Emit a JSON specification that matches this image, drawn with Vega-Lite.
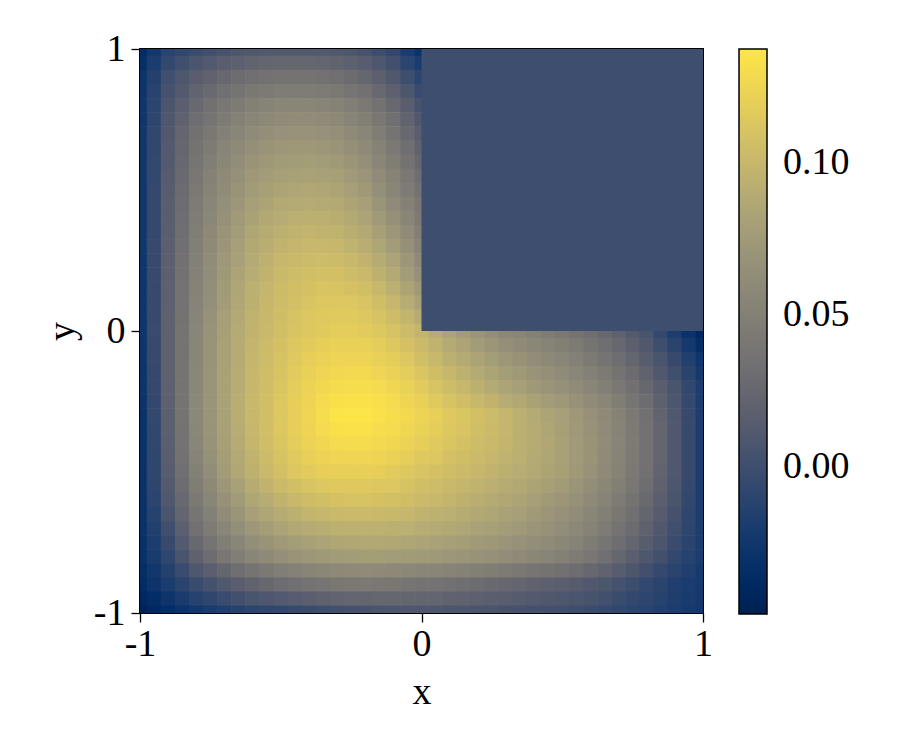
{
"$schema": "https://vega.github.io/schema/vega-lite/v6.json",
"width": 563, "height": 564,
"autosize": {"type": "none"},
"padding": {"left": 140, "top": 49, "right": 197, "bottom": 137},
"background": "white",
"datasets": {
"mask": [{"x": 0, "x2": 1, "y": 0, "y2": 1, "v": 0}],
"heat": [
{"x":-1,"y":1,"v":-0.035},{"x":-0.95,"y":1,"v":-0.024},{"x":-0.9,"y":1,"v":-0.012},{"x":-0.85,"y":1,"v":-0.007},{"x":-0.8,"y":1,"v":-0.002},{"x":-0.75,"y":1,"v":0.002},{"x":-0.7,"y":1,"v":0.005},{"x":-0.65,"y":1,"v":0.008},{"x":-0.6,"y":1,"v":0.01},{"x":-0.55,"y":1,"v":0.012},{"x":-0.5,"y":1,"v":0.013},{"x":-0.45,"y":1,"v":0.013},{"x":-0.4,"y":1,"v":0.013},{"x":-0.35,"y":1,"v":0.012},{"x":-0.3,"y":1,"v":0.011},{"x":-0.25,"y":1,"v":0.008},{"x":-0.2,"y":1,"v":0.005},{"x":-0.15,"y":1,"v":-0.001},{"x":-0.1,"y":1,"v":-0.007},{"x":-0.05,"y":1,"v":-0.019},{"x":0,"y":1,"v":-0.03},
{"x":-1,"y":0.95,"v":-0.032},{"x":-0.95,"y":0.95,"v":-0.019},{"x":-0.9,"y":0.95,"v":-0.006},{"x":-0.85,"y":0.95,"v":0.001},{"x":-0.8,"y":0.95,"v":0.007},{"x":-0.75,"y":0.95,"v":0.012},{"x":-0.7,"y":0.95,"v":0.016},{"x":-0.65,"y":0.95,"v":0.019},{"x":-0.6,"y":0.95,"v":0.022},{"x":-0.55,"y":0.95,"v":0.024},{"x":-0.5,"y":0.95,"v":0.025},{"x":-0.45,"y":0.95,"v":0.025},{"x":-0.4,"y":0.95,"v":0.025},{"x":-0.35,"y":0.95,"v":0.024},{"x":-0.3,"y":0.95,"v":0.022},{"x":-0.25,"y":0.95,"v":0.019},{"x":-0.2,"y":0.95,"v":0.015},{"x":-0.15,"y":0.95,"v":0.009},{"x":-0.1,"y":0.95,"v":0.002},{"x":-0.05,"y":0.95,"v":-0.01},{"x":0,"y":0.95,"v":-0.02},
{"x":-1,"y":0.9,"v":-0.028},{"x":-0.95,"y":0.9,"v":-0.014},{"x":-0.9,"y":0.9,"v":0.001},{"x":-0.85,"y":0.9,"v":0.009},{"x":-0.8,"y":0.9,"v":0.016},{"x":-0.75,"y":0.9,"v":0.021},{"x":-0.7,"y":0.9,"v":0.026},{"x":-0.65,"y":0.9,"v":0.03},{"x":-0.6,"y":0.9,"v":0.033},{"x":-0.55,"y":0.9,"v":0.035},{"x":-0.5,"y":0.9,"v":0.037},{"x":-0.45,"y":0.9,"v":0.037},{"x":-0.4,"y":0.9,"v":0.037},{"x":-0.35,"y":0.9,"v":0.035},{"x":-0.3,"y":0.9,"v":0.033},{"x":-0.25,"y":0.9,"v":0.029},{"x":-0.2,"y":0.9,"v":0.025},{"x":-0.15,"y":0.9,"v":0.018},{"x":-0.1,"y":0.9,"v":0.01},{"x":-0.05,"y":0.9,"v":0},{"x":0,"y":0.9,"v":-0.01},
{"x":-1,"y":0.85,"v":-0.027},{"x":-0.95,"y":0.85,"v":-0.012},{"x":-0.9,"y":0.85,"v":0.004},{"x":-0.85,"y":0.85,"v":0.013},{"x":-0.8,"y":0.85,"v":0.022},{"x":-0.75,"y":0.85,"v":0.028},{"x":-0.7,"y":0.85,"v":0.033},{"x":-0.65,"y":0.85,"v":0.038},{"x":-0.6,"y":0.85,"v":0.042},{"x":-0.55,"y":0.85,"v":0.044},{"x":-0.5,"y":0.85,"v":0.046},{"x":-0.45,"y":0.85,"v":0.046},{"x":-0.4,"y":0.85,"v":0.046},{"x":-0.35,"y":0.85,"v":0.045},{"x":-0.3,"y":0.85,"v":0.043},{"x":-0.25,"y":0.85,"v":0.039},{"x":-0.2,"y":0.85,"v":0.034},{"x":-0.15,"y":0.85,"v":0.027},{"x":-0.1,"y":0.85,"v":0.019},{"x":-0.05,"y":0.85,"v":0.008},{"x":0,"y":0.85,"v":-0.003},
{"x":-1,"y":0.8,"v":-0.026},{"x":-0.95,"y":0.8,"v":-0.01},{"x":-0.9,"y":0.8,"v":0.007},{"x":-0.85,"y":0.8,"v":0.017},{"x":-0.8,"y":0.8,"v":0.027},{"x":-0.75,"y":0.8,"v":0.034},{"x":-0.7,"y":0.8,"v":0.04},{"x":-0.65,"y":0.8,"v":0.045},{"x":-0.6,"y":0.8,"v":0.05},{"x":-0.55,"y":0.8,"v":0.053},{"x":-0.5,"y":0.8,"v":0.055},{"x":-0.45,"y":0.8,"v":0.055},{"x":-0.4,"y":0.8,"v":0.055},{"x":-0.35,"y":0.8,"v":0.054},{"x":-0.3,"y":0.8,"v":0.052},{"x":-0.25,"y":0.8,"v":0.048},{"x":-0.2,"y":0.8,"v":0.043},{"x":-0.15,"y":0.8,"v":0.035},{"x":-0.1,"y":0.8,"v":0.027},{"x":-0.05,"y":0.8,"v":0.016},{"x":0,"y":0.8,"v":0.005},
{"x":-1,"y":0.75,"v":-0.026},{"x":-0.95,"y":0.75,"v":-0.009},{"x":-0.9,"y":0.75,"v":0.009},{"x":-0.85,"y":0.75,"v":0.02},{"x":-0.8,"y":0.75,"v":0.031},{"x":-0.75,"y":0.75,"v":0.038},{"x":-0.7,"y":0.75,"v":0.045},{"x":-0.65,"y":0.75,"v":0.051},{"x":-0.6,"y":0.75,"v":0.056},{"x":-0.55,"y":0.75,"v":0.059},{"x":-0.5,"y":0.75,"v":0.061},{"x":-0.45,"y":0.75,"v":0.062},{"x":-0.4,"y":0.75,"v":0.062},{"x":-0.35,"y":0.75,"v":0.061},{"x":-0.3,"y":0.75,"v":0.059},{"x":-0.25,"y":0.75,"v":0.054},{"x":-0.2,"y":0.75,"v":0.049},{"x":-0.15,"y":0.75,"v":0.041},{"x":-0.1,"y":0.75,"v":0.033},{"x":-0.05,"y":0.75,"v":0.022},{"x":0,"y":0.75,"v":0.011},
{"x":-1,"y":0.7,"v":-0.025},{"x":-0.95,"y":0.7,"v":-0.007},{"x":-0.9,"y":0.7,"v":0.011},{"x":-0.85,"y":0.7,"v":0.023},{"x":-0.8,"y":0.7,"v":0.034},{"x":-0.75,"y":0.7,"v":0.042},{"x":-0.7,"y":0.7,"v":0.05},{"x":-0.65,"y":0.7,"v":0.056},{"x":-0.6,"y":0.7,"v":0.061},{"x":-0.55,"y":0.7,"v":0.064},{"x":-0.5,"y":0.7,"v":0.067},{"x":-0.45,"y":0.7,"v":0.068},{"x":-0.4,"y":0.7,"v":0.068},{"x":-0.35,"y":0.7,"v":0.067},{"x":-0.3,"y":0.7,"v":0.065},{"x":-0.25,"y":0.7,"v":0.06},{"x":-0.2,"y":0.7,"v":0.055},{"x":-0.15,"y":0.7,"v":0.047},{"x":-0.1,"y":0.7,"v":0.038},{"x":-0.05,"y":0.7,"v":0.027},{"x":0,"y":0.7,"v":0.016},
{"x":-1,"y":0.65,"v":-0.025},{"x":-0.95,"y":0.65,"v":-0.007},{"x":-0.9,"y":0.65,"v":0.012},{"x":-0.85,"y":0.65,"v":0.025},{"x":-0.8,"y":0.65,"v":0.037},{"x":-0.75,"y":0.65,"v":0.045},{"x":-0.7,"y":0.65,"v":0.054},{"x":-0.65,"y":0.65,"v":0.06},{"x":-0.6,"y":0.65,"v":0.065},{"x":-0.55,"y":0.65,"v":0.069},{"x":-0.5,"y":0.65,"v":0.072},{"x":-0.45,"y":0.65,"v":0.073},{"x":-0.4,"y":0.65,"v":0.073},{"x":-0.35,"y":0.65,"v":0.072},{"x":-0.3,"y":0.65,"v":0.07},{"x":-0.25,"y":0.65,"v":0.065},{"x":-0.2,"y":0.65,"v":0.06},{"x":-0.15,"y":0.65,"v":0.052},{"x":-0.1,"y":0.65,"v":0.043},{"x":-0.05,"y":0.65,"v":0.032},{"x":0,"y":0.65,"v":0.021},
{"x":-1,"y":0.6,"v":-0.025},{"x":-0.95,"y":0.6,"v":-0.006},{"x":-0.9,"y":0.6,"v":0.013},{"x":-0.85,"y":0.6,"v":0.026},{"x":-0.8,"y":0.6,"v":0.039},{"x":-0.75,"y":0.6,"v":0.048},{"x":-0.7,"y":0.6,"v":0.057},{"x":-0.65,"y":0.6,"v":0.063},{"x":-0.6,"y":0.6,"v":0.069},{"x":-0.55,"y":0.6,"v":0.073},{"x":-0.5,"y":0.6,"v":0.076},{"x":-0.45,"y":0.6,"v":0.077},{"x":-0.4,"y":0.6,"v":0.078},{"x":-0.35,"y":0.6,"v":0.077},{"x":-0.3,"y":0.6,"v":0.075},{"x":-0.25,"y":0.6,"v":0.07},{"x":-0.2,"y":0.6,"v":0.065},{"x":-0.15,"y":0.6,"v":0.056},{"x":-0.1,"y":0.6,"v":0.047},{"x":-0.05,"y":0.6,"v":0.037},{"x":0,"y":0.6,"v":0.026},
{"x":-1,"y":0.55,"v":-0.025},{"x":-0.95,"y":0.55,"v":-0.006},{"x":-0.9,"y":0.55,"v":0.014},{"x":-0.85,"y":0.55,"v":0.028},{"x":-0.8,"y":0.55,"v":0.041},{"x":-0.75,"y":0.55,"v":0.051},{"x":-0.7,"y":0.55,"v":0.06},{"x":-0.65,"y":0.55,"v":0.066},{"x":-0.6,"y":0.55,"v":0.073},{"x":-0.55,"y":0.55,"v":0.077},{"x":-0.5,"y":0.55,"v":0.08},{"x":-0.45,"y":0.55,"v":0.081},{"x":-0.4,"y":0.55,"v":0.082},{"x":-0.35,"y":0.55,"v":0.081},{"x":-0.3,"y":0.55,"v":0.08},{"x":-0.25,"y":0.55,"v":0.075},{"x":-0.2,"y":0.55,"v":0.07},{"x":-0.15,"y":0.55,"v":0.061},{"x":-0.1,"y":0.55,"v":0.052},{"x":-0.05,"y":0.55,"v":0.042},{"x":0,"y":0.55,"v":0.031},
{"x":-1,"y":0.5,"v":-0.025},{"x":-0.95,"y":0.5,"v":-0.005},{"x":-0.9,"y":0.5,"v":0.015},{"x":-0.85,"y":0.5,"v":0.029},{"x":-0.8,"y":0.5,"v":0.043},{"x":-0.75,"y":0.5,"v":0.053},{"x":-0.7,"y":0.5,"v":0.062},{"x":-0.65,"y":0.5,"v":0.069},{"x":-0.6,"y":0.5,"v":0.076},{"x":-0.55,"y":0.5,"v":0.08},{"x":-0.5,"y":0.5,"v":0.084},{"x":-0.45,"y":0.5,"v":0.085},{"x":-0.4,"y":0.5,"v":0.086},{"x":-0.35,"y":0.5,"v":0.085},{"x":-0.3,"y":0.5,"v":0.084},{"x":-0.25,"y":0.5,"v":0.079},{"x":-0.2,"y":0.5,"v":0.074},{"x":-0.15,"y":0.5,"v":0.065},{"x":-0.1,"y":0.5,"v":0.056},{"x":-0.05,"y":0.5,"v":0.046},{"x":0,"y":0.5,"v":0.035},
{"x":-1,"y":0.45,"v":-0.025},{"x":-0.95,"y":0.45,"v":-0.005},{"x":-0.9,"y":0.45,"v":0.016},{"x":-0.85,"y":0.45,"v":0.03},{"x":-0.8,"y":0.45,"v":0.045},{"x":-0.75,"y":0.45,"v":0.055},{"x":-0.7,"y":0.45,"v":0.065},{"x":-0.65,"y":0.45,"v":0.072},{"x":-0.6,"y":0.45,"v":0.079},{"x":-0.55,"y":0.45,"v":0.084},{"x":-0.5,"y":0.45,"v":0.088},{"x":-0.45,"y":0.45,"v":0.089},{"x":-0.4,"y":0.45,"v":0.09},{"x":-0.35,"y":0.45,"v":0.089},{"x":-0.3,"y":0.45,"v":0.088},{"x":-0.25,"y":0.45,"v":0.084},{"x":-0.2,"y":0.45,"v":0.079},{"x":-0.15,"y":0.45,"v":0.07},{"x":-0.1,"y":0.45,"v":0.061},{"x":-0.05,"y":0.45,"v":0.051},{"x":0,"y":0.45,"v":0.04},
{"x":-1,"y":0.4,"v":-0.025},{"x":-0.95,"y":0.4,"v":-0.005},{"x":-0.9,"y":0.4,"v":0.016},{"x":-0.85,"y":0.4,"v":0.031},{"x":-0.8,"y":0.4,"v":0.046},{"x":-0.75,"y":0.4,"v":0.057},{"x":-0.7,"y":0.4,"v":0.067},{"x":-0.65,"y":0.4,"v":0.075},{"x":-0.6,"y":0.4,"v":0.082},{"x":-0.55,"y":0.4,"v":0.087},{"x":-0.5,"y":0.4,"v":0.091},{"x":-0.45,"y":0.4,"v":0.093},{"x":-0.4,"y":0.4,"v":0.094},{"x":-0.35,"y":0.4,"v":0.093},{"x":-0.3,"y":0.4,"v":0.092},{"x":-0.25,"y":0.4,"v":0.088},{"x":-0.2,"y":0.4,"v":0.083},{"x":-0.15,"y":0.4,"v":0.075},{"x":-0.1,"y":0.4,"v":0.066},{"x":-0.05,"y":0.4,"v":0.055},{"x":0,"y":0.4,"v":0.044},
{"x":-1,"y":0.35,"v":-0.025},{"x":-0.95,"y":0.35,"v":-0.005},{"x":-0.9,"y":0.35,"v":0.017},{"x":-0.85,"y":0.35,"v":0.032},{"x":-0.8,"y":0.35,"v":0.048},{"x":-0.75,"y":0.35,"v":0.059},{"x":-0.7,"y":0.35,"v":0.069},{"x":-0.65,"y":0.35,"v":0.077},{"x":-0.6,"y":0.35,"v":0.085},{"x":-0.55,"y":0.35,"v":0.09},{"x":-0.5,"y":0.35,"v":0.094},{"x":-0.45,"y":0.35,"v":0.096},{"x":-0.4,"y":0.35,"v":0.098},{"x":-0.35,"y":0.35,"v":0.097},{"x":-0.3,"y":0.35,"v":0.096},{"x":-0.25,"y":0.35,"v":0.092},{"x":-0.2,"y":0.35,"v":0.088},{"x":-0.15,"y":0.35,"v":0.08},{"x":-0.1,"y":0.35,"v":0.072},{"x":-0.05,"y":0.35,"v":0.061},{"x":0,"y":0.35,"v":0.049},
{"x":-1,"y":0.3,"v":-0.025},{"x":-0.95,"y":0.3,"v":-0.004},{"x":-0.9,"y":0.3,"v":0.017},{"x":-0.85,"y":0.3,"v":0.033},{"x":-0.8,"y":0.3,"v":0.049},{"x":-0.75,"y":0.3,"v":0.06},{"x":-0.7,"y":0.3,"v":0.071},{"x":-0.65,"y":0.3,"v":0.079},{"x":-0.6,"y":0.3,"v":0.087},{"x":-0.55,"y":0.3,"v":0.092},{"x":-0.5,"y":0.3,"v":0.097},{"x":-0.45,"y":0.3,"v":0.099},{"x":-0.4,"y":0.3,"v":0.101},{"x":-0.35,"y":0.3,"v":0.101},{"x":-0.3,"y":0.3,"v":0.1},{"x":-0.25,"y":0.3,"v":0.096},{"x":-0.2,"y":0.3,"v":0.092},{"x":-0.15,"y":0.3,"v":0.085},{"x":-0.1,"y":0.3,"v":0.077},{"x":-0.05,"y":0.3,"v":0.066},{"x":0,"y":0.3,"v":0.054},
{"x":-1,"y":0.25,"v":-0.026},{"x":-0.95,"y":0.25,"v":-0.004},{"x":-0.9,"y":0.25,"v":0.018},{"x":-0.85,"y":0.25,"v":0.034},{"x":-0.8,"y":0.25,"v":0.05},{"x":-0.75,"y":0.25,"v":0.062},{"x":-0.7,"y":0.25,"v":0.073},{"x":-0.65,"y":0.25,"v":0.081},{"x":-0.6,"y":0.25,"v":0.089},{"x":-0.55,"y":0.25,"v":0.095},{"x":-0.5,"y":0.25,"v":0.1},{"x":-0.45,"y":0.25,"v":0.102},{"x":-0.4,"y":0.25,"v":0.104},{"x":-0.35,"y":0.25,"v":0.105},{"x":-0.3,"y":0.25,"v":0.104},{"x":-0.25,"y":0.25,"v":0.101},{"x":-0.2,"y":0.25,"v":0.097},{"x":-0.15,"y":0.25,"v":0.09},{"x":-0.1,"y":0.25,"v":0.083},{"x":-0.05,"y":0.25,"v":0.072},{"x":0,"y":0.25,"v":0.06},
{"x":-1,"y":0.2,"v":-0.026},{"x":-0.95,"y":0.2,"v":-0.004},{"x":-0.9,"y":0.2,"v":0.018},{"x":-0.85,"y":0.2,"v":0.035},{"x":-0.8,"y":0.2,"v":0.051},{"x":-0.75,"y":0.2,"v":0.063},{"x":-0.7,"y":0.2,"v":0.074},{"x":-0.65,"y":0.2,"v":0.083},{"x":-0.6,"y":0.2,"v":0.091},{"x":-0.55,"y":0.2,"v":0.097},{"x":-0.5,"y":0.2,"v":0.102},{"x":-0.45,"y":0.2,"v":0.105},{"x":-0.4,"y":0.2,"v":0.107},{"x":-0.35,"y":0.2,"v":0.108},{"x":-0.3,"y":0.2,"v":0.108},{"x":-0.25,"y":0.2,"v":0.105},{"x":-0.2,"y":0.2,"v":0.102},{"x":-0.15,"y":0.2,"v":0.095},{"x":-0.1,"y":0.2,"v":0.088},{"x":-0.05,"y":0.2,"v":0.077},{"x":0,"y":0.2,"v":0.066},
{"x":-1,"y":0.15,"v":-0.026},{"x":-0.95,"y":0.15,"v":-0.004},{"x":-0.9,"y":0.15,"v":0.019},{"x":-0.85,"y":0.15,"v":0.036},{"x":-0.8,"y":0.15,"v":0.052},{"x":-0.75,"y":0.15,"v":0.064},{"x":-0.7,"y":0.15,"v":0.076},{"x":-0.65,"y":0.15,"v":0.085},{"x":-0.6,"y":0.15,"v":0.093},{"x":-0.55,"y":0.15,"v":0.099},{"x":-0.5,"y":0.15,"v":0.104},{"x":-0.45,"y":0.15,"v":0.107},{"x":-0.4,"y":0.15,"v":0.109},{"x":-0.35,"y":0.15,"v":0.111},{"x":-0.3,"y":0.15,"v":0.111},{"x":-0.25,"y":0.15,"v":0.109},{"x":-0.2,"y":0.15,"v":0.107},{"x":-0.15,"y":0.15,"v":0.101},{"x":-0.1,"y":0.15,"v":0.094},{"x":-0.05,"y":0.15,"v":0.084},{"x":0,"y":0.15,"v":0.074},
{"x":-1,"y":0.1,"v":-0.026},{"x":-0.95,"y":0.1,"v":-0.004},{"x":-0.9,"y":0.1,"v":0.019},{"x":-0.85,"y":0.1,"v":0.036},{"x":-0.8,"y":0.1,"v":0.053},{"x":-0.75,"y":0.1,"v":0.065},{"x":-0.7,"y":0.1,"v":0.077},{"x":-0.65,"y":0.1,"v":0.086},{"x":-0.6,"y":0.1,"v":0.094},{"x":-0.55,"y":0.1,"v":0.1},{"x":-0.5,"y":0.1,"v":0.105},{"x":-0.45,"y":0.1,"v":0.108},{"x":-0.4,"y":0.1,"v":0.111},{"x":-0.35,"y":0.1,"v":0.113},{"x":-0.3,"y":0.1,"v":0.114},{"x":-0.25,"y":0.1,"v":0.113},{"x":-0.2,"y":0.1,"v":0.111},{"x":-0.15,"y":0.1,"v":0.106},{"x":-0.1,"y":0.1,"v":0.1},{"x":-0.05,"y":0.1,"v":0.091},{"x":0,"y":0.1,"v":0.082},
{"x":-1,"y":0.05,"v":-0.026},{"x":-0.95,"y":0.05,"v":-0.004},{"x":-0.9,"y":0.05,"v":0.02},{"x":-0.85,"y":0.05,"v":0.037},{"x":-0.8,"y":0.05,"v":0.054},{"x":-0.75,"y":0.05,"v":0.067},{"x":-0.7,"y":0.05,"v":0.079},{"x":-0.65,"y":0.05,"v":0.088},{"x":-0.6,"y":0.05,"v":0.096},{"x":-0.55,"y":0.05,"v":0.101},{"x":-0.5,"y":0.05,"v":0.106},{"x":-0.45,"y":0.05,"v":0.11},{"x":-0.4,"y":0.05,"v":0.113},{"x":-0.35,"y":0.05,"v":0.115},{"x":-0.3,"y":0.05,"v":0.116},{"x":-0.25,"y":0.05,"v":0.116},{"x":-0.2,"y":0.05,"v":0.114},{"x":-0.15,"y":0.05,"v":0.11},{"x":-0.1,"y":0.05,"v":0.105},{"x":-0.05,"y":0.05,"v":0.098},{"x":0,"y":0.05,"v":0.09},
{"x":-1,"y":0,"v":-0.026},{"x":-0.95,"y":0,"v":-0.003},{"x":-0.9,"y":0,"v":0.02},{"x":-0.85,"y":0,"v":0.038},{"x":-0.8,"y":0,"v":0.055},{"x":-0.75,"y":0,"v":0.068},{"x":-0.7,"y":0,"v":0.08},{"x":-0.65,"y":0,"v":0.089},{"x":-0.6,"y":0,"v":0.097},{"x":-0.55,"y":0,"v":0.102},{"x":-0.5,"y":0,"v":0.107},{"x":-0.45,"y":0,"v":0.111},{"x":-0.4,"y":0,"v":0.114},{"x":-0.35,"y":0,"v":0.116},{"x":-0.3,"y":0,"v":0.118},{"x":-0.25,"y":0,"v":0.118},{"x":-0.2,"y":0,"v":0.117},{"x":-0.15,"y":0,"v":0.114},{"x":-0.1,"y":0,"v":0.11},{"x":-0.05,"y":0,"v":0.104},{"x":0,"y":0,"v":0.098},{"x":0.05,"y":0,"v":0.091},{"x":0.1,"y":0,"v":0.083},{"x":0.15,"y":0,"v":0.077},{"x":0.2,"y":0,"v":0.07},{"x":0.25,"y":0,"v":0.064},{"x":0.3,"y":0,"v":0.058},{"x":0.35,"y":0,"v":0.054},{"x":0.4,"y":0,"v":0.05},{"x":0.45,"y":0,"v":0.046},{"x":0.5,"y":0,"v":0.042},{"x":0.55,"y":0,"v":0.037},{"x":0.6,"y":0,"v":0.032},{"x":0.65,"y":0,"v":0.026},{"x":0.7,"y":0,"v":0.02},{"x":0.75,"y":0,"v":0.013},{"x":0.8,"y":0,"v":0.006},{"x":0.85,"y":0,"v":-0.006},{"x":0.9,"y":0,"v":-0.018},{"x":0.95,"y":0,"v":-0.029},{"x":1,"y":0,"v":-0.04},
{"x":-1,"y":-0.05,"v":-0.027},{"x":-0.95,"y":-0.05,"v":-0.004},{"x":-0.9,"y":-0.05,"v":0.02},{"x":-0.85,"y":-0.05,"v":0.038},{"x":-0.8,"y":-0.05,"v":0.056},{"x":-0.75,"y":-0.05,"v":0.069},{"x":-0.7,"y":-0.05,"v":0.081},{"x":-0.65,"y":-0.05,"v":0.09},{"x":-0.6,"y":-0.05,"v":0.098},{"x":-0.55,"y":-0.05,"v":0.104},{"x":-0.5,"y":-0.05,"v":0.109},{"x":-0.45,"y":-0.05,"v":0.113},{"x":-0.4,"y":-0.05,"v":0.117},{"x":-0.35,"y":-0.05,"v":0.119},{"x":-0.3,"y":-0.05,"v":0.121},{"x":-0.25,"y":-0.05,"v":0.121},{"x":-0.2,"y":-0.05,"v":0.121},{"x":-0.15,"y":-0.05,"v":0.118},{"x":-0.1,"y":-0.05,"v":0.114},{"x":-0.05,"y":-0.05,"v":0.109},{"x":0,"y":-0.05,"v":0.103},{"x":0.05,"y":-0.05,"v":0.096},{"x":0.1,"y":-0.05,"v":0.089},{"x":0.15,"y":-0.05,"v":0.083},{"x":0.2,"y":-0.05,"v":0.077},{"x":0.25,"y":-0.05,"v":0.071},{"x":0.3,"y":-0.05,"v":0.065},{"x":0.35,"y":-0.05,"v":0.061},{"x":0.4,"y":-0.05,"v":0.057},{"x":0.45,"y":-0.05,"v":0.053},{"x":0.5,"y":-0.05,"v":0.049},{"x":0.55,"y":-0.05,"v":0.044},{"x":0.6,"y":-0.05,"v":0.038},{"x":0.65,"y":-0.05,"v":0.032},{"x":0.7,"y":-0.05,"v":0.026},{"x":0.75,"y":-0.05,"v":0.018},{"x":0.8,"y":-0.05,"v":0.011},{"x":0.85,"y":-0.05,"v":0},{"x":0.9,"y":-0.05,"v":-0.011},{"x":0.95,"y":-0.05,"v":-0.022},{"x":1,"y":-0.05,"v":-0.033},
{"x":-1,"y":-0.1,"v":-0.027},{"x":-0.95,"y":-0.1,"v":-0.004},{"x":-0.9,"y":-0.1,"v":0.02},{"x":-0.85,"y":-0.1,"v":0.038},{"x":-0.8,"y":-0.1,"v":0.056},{"x":-0.75,"y":-0.1,"v":0.069},{"x":-0.7,"y":-0.1,"v":0.081},{"x":-0.65,"y":-0.1,"v":0.09},{"x":-0.6,"y":-0.1,"v":0.099},{"x":-0.55,"y":-0.1,"v":0.105},{"x":-0.5,"y":-0.1,"v":0.11},{"x":-0.45,"y":-0.1,"v":0.115},{"x":-0.4,"y":-0.1,"v":0.119},{"x":-0.35,"y":-0.1,"v":0.122},{"x":-0.3,"y":-0.1,"v":0.124},{"x":-0.25,"y":-0.1,"v":0.124},{"x":-0.2,"y":-0.1,"v":0.124},{"x":-0.15,"y":-0.1,"v":0.121},{"x":-0.1,"y":-0.1,"v":0.118},{"x":-0.05,"y":-0.1,"v":0.113},{"x":0,"y":-0.1,"v":0.107},{"x":0.05,"y":-0.1,"v":0.101},{"x":0.1,"y":-0.1,"v":0.094},{"x":0.15,"y":-0.1,"v":0.089},{"x":0.2,"y":-0.1,"v":0.083},{"x":0.25,"y":-0.1,"v":0.078},{"x":0.3,"y":-0.1,"v":0.072},{"x":0.35,"y":-0.1,"v":0.068},{"x":0.4,"y":-0.1,"v":0.063},{"x":0.45,"y":-0.1,"v":0.059},{"x":0.5,"y":-0.1,"v":0.055},{"x":0.55,"y":-0.1,"v":0.05},{"x":0.6,"y":-0.1,"v":0.044},{"x":0.65,"y":-0.1,"v":0.038},{"x":0.7,"y":-0.1,"v":0.031},{"x":0.75,"y":-0.1,"v":0.023},{"x":0.8,"y":-0.1,"v":0.015},{"x":0.85,"y":-0.1,"v":0.006},{"x":0.9,"y":-0.1,"v":-0.004},{"x":0.95,"y":-0.1,"v":-0.015},{"x":1,"y":-0.1,"v":-0.026},
{"x":-1,"y":-0.15,"v":-0.028},{"x":-0.95,"y":-0.15,"v":-0.005},{"x":-0.9,"y":-0.15,"v":0.02},{"x":-0.85,"y":-0.15,"v":0.038},{"x":-0.8,"y":-0.15,"v":0.057},{"x":-0.75,"y":-0.15,"v":0.07},{"x":-0.7,"y":-0.15,"v":0.082},{"x":-0.65,"y":-0.15,"v":0.091},{"x":-0.6,"y":-0.15,"v":0.1},{"x":-0.55,"y":-0.15,"v":0.106},{"x":-0.5,"y":-0.15,"v":0.111},{"x":-0.45,"y":-0.15,"v":0.117},{"x":-0.4,"y":-0.15,"v":0.121},{"x":-0.35,"y":-0.15,"v":0.125},{"x":-0.3,"y":-0.15,"v":0.127},{"x":-0.25,"y":-0.15,"v":0.128},{"x":-0.2,"y":-0.15,"v":0.128},{"x":-0.15,"y":-0.15,"v":0.125},{"x":-0.1,"y":-0.15,"v":0.122},{"x":-0.05,"y":-0.15,"v":0.118},{"x":0,"y":-0.15,"v":0.112},{"x":0.05,"y":-0.15,"v":0.106},{"x":0.1,"y":-0.15,"v":0.1},{"x":0.15,"y":-0.15,"v":0.095},{"x":0.2,"y":-0.15,"v":0.089},{"x":0.25,"y":-0.15,"v":0.084},{"x":0.3,"y":-0.15,"v":0.078},{"x":0.35,"y":-0.15,"v":0.074},{"x":0.4,"y":-0.15,"v":0.069},{"x":0.45,"y":-0.15,"v":0.065},{"x":0.5,"y":-0.15,"v":0.061},{"x":0.55,"y":-0.15,"v":0.056},{"x":0.6,"y":-0.15,"v":0.05},{"x":0.65,"y":-0.15,"v":0.044},{"x":0.7,"y":-0.15,"v":0.037},{"x":0.75,"y":-0.15,"v":0.029},{"x":0.8,"y":-0.15,"v":0.021},{"x":0.85,"y":-0.15,"v":0.011},{"x":0.9,"y":-0.15,"v":0.001},{"x":0.95,"y":-0.15,"v":-0.011},{"x":1,"y":-0.15,"v":-0.022},
{"x":-1,"y":-0.2,"v":-0.028},{"x":-0.95,"y":-0.2,"v":-0.005},{"x":-0.9,"y":-0.2,"v":0.019},{"x":-0.85,"y":-0.2,"v":0.038},{"x":-0.8,"y":-0.2,"v":0.057},{"x":-0.75,"y":-0.2,"v":0.07},{"x":-0.7,"y":-0.2,"v":0.082},{"x":-0.65,"y":-0.2,"v":0.091},{"x":-0.6,"y":-0.2,"v":0.1},{"x":-0.55,"y":-0.2,"v":0.106},{"x":-0.5,"y":-0.2,"v":0.112},{"x":-0.45,"y":-0.2,"v":0.118},{"x":-0.4,"y":-0.2,"v":0.123},{"x":-0.35,"y":-0.2,"v":0.127},{"x":-0.3,"y":-0.2,"v":0.13},{"x":-0.25,"y":-0.2,"v":0.131},{"x":-0.2,"y":-0.2,"v":0.131},{"x":-0.15,"y":-0.2,"v":0.129},{"x":-0.1,"y":-0.2,"v":0.126},{"x":-0.05,"y":-0.2,"v":0.122},{"x":0,"y":-0.2,"v":0.117},{"x":0.05,"y":-0.2,"v":0.111},{"x":0.1,"y":-0.2,"v":0.105},{"x":0.15,"y":-0.2,"v":0.1},{"x":0.2,"y":-0.2,"v":0.094},{"x":0.25,"y":-0.2,"v":0.089},{"x":0.3,"y":-0.2,"v":0.083},{"x":0.35,"y":-0.2,"v":0.079},{"x":0.4,"y":-0.2,"v":0.074},{"x":0.45,"y":-0.2,"v":0.07},{"x":0.5,"y":-0.2,"v":0.066},{"x":0.55,"y":-0.2,"v":0.061},{"x":0.6,"y":-0.2,"v":0.055},{"x":0.65,"y":-0.2,"v":0.049},{"x":0.7,"y":-0.2,"v":0.042},{"x":0.75,"y":-0.2,"v":0.034},{"x":0.8,"y":-0.2,"v":0.026},{"x":0.85,"y":-0.2,"v":0.016},{"x":0.9,"y":-0.2,"v":0.006},{"x":0.95,"y":-0.2,"v":-0.006},{"x":1,"y":-0.2,"v":-0.018},
{"x":-1,"y":-0.25,"v":-0.029},{"x":-0.95,"y":-0.25,"v":-0.006},{"x":-0.9,"y":-0.25,"v":0.019},{"x":-0.85,"y":-0.25,"v":0.038},{"x":-0.8,"y":-0.25,"v":0.058},{"x":-0.75,"y":-0.25,"v":0.07},{"x":-0.7,"y":-0.25,"v":0.082},{"x":-0.65,"y":-0.25,"v":0.092},{"x":-0.6,"y":-0.25,"v":0.101},{"x":-0.55,"y":-0.25,"v":0.107},{"x":-0.5,"y":-0.25,"v":0.113},{"x":-0.45,"y":-0.25,"v":0.119},{"x":-0.4,"y":-0.25,"v":0.124},{"x":-0.35,"y":-0.25,"v":0.129},{"x":-0.3,"y":-0.25,"v":0.133},{"x":-0.25,"y":-0.25,"v":0.134},{"x":-0.2,"y":-0.25,"v":0.134},{"x":-0.15,"y":-0.25,"v":0.132},{"x":-0.1,"y":-0.25,"v":0.129},{"x":-0.05,"y":-0.25,"v":0.125},{"x":0,"y":-0.25,"v":0.121},{"x":0.05,"y":-0.25,"v":0.116},{"x":0.1,"y":-0.25,"v":0.11},{"x":0.15,"y":-0.25,"v":0.106},{"x":0.2,"y":-0.25,"v":0.101},{"x":0.25,"y":-0.25,"v":0.097},{"x":0.3,"y":-0.25,"v":0.091},{"x":0.35,"y":-0.25,"v":0.087},{"x":0.4,"y":-0.25,"v":0.082},{"x":0.45,"y":-0.25,"v":0.077},{"x":0.5,"y":-0.25,"v":0.073},{"x":0.55,"y":-0.25,"v":0.067},{"x":0.6,"y":-0.25,"v":0.061},{"x":0.65,"y":-0.25,"v":0.055},{"x":0.7,"y":-0.25,"v":0.047},{"x":0.75,"y":-0.25,"v":0.039},{"x":0.8,"y":-0.25,"v":0.03},{"x":0.85,"y":-0.25,"v":0.019},{"x":0.9,"y":-0.25,"v":0.008},{"x":0.95,"y":-0.25,"v":-0.005},{"x":1,"y":-0.25,"v":-0.018},
{"x":-1,"y":-0.3,"v":-0.03},{"x":-0.95,"y":-0.3,"v":-0.006},{"x":-0.9,"y":-0.3,"v":0.018},{"x":-0.85,"y":-0.3,"v":0.038},{"x":-0.8,"y":-0.3,"v":0.058},{"x":-0.75,"y":-0.3,"v":0.07},{"x":-0.7,"y":-0.3,"v":0.082},{"x":-0.65,"y":-0.3,"v":0.092},{"x":-0.6,"y":-0.3,"v":0.101},{"x":-0.55,"y":-0.3,"v":0.107},{"x":-0.5,"y":-0.3,"v":0.113},{"x":-0.45,"y":-0.3,"v":0.119},{"x":-0.4,"y":-0.3,"v":0.125},{"x":-0.35,"y":-0.3,"v":0.131},{"x":-0.3,"y":-0.3,"v":0.136},{"x":-0.25,"y":-0.3,"v":0.137},{"x":-0.2,"y":-0.3,"v":0.137},{"x":-0.15,"y":-0.3,"v":0.134},{"x":-0.1,"y":-0.3,"v":0.131},{"x":-0.05,"y":-0.3,"v":0.128},{"x":0,"y":-0.3,"v":0.124},{"x":0.05,"y":-0.3,"v":0.12},{"x":0.1,"y":-0.3,"v":0.115},{"x":0.15,"y":-0.3,"v":0.112},{"x":0.2,"y":-0.3,"v":0.108},{"x":0.25,"y":-0.3,"v":0.104},{"x":0.3,"y":-0.3,"v":0.099},{"x":0.35,"y":-0.3,"v":0.094},{"x":0.4,"y":-0.3,"v":0.089},{"x":0.45,"y":-0.3,"v":0.084},{"x":0.5,"y":-0.3,"v":0.079},{"x":0.55,"y":-0.3,"v":0.073},{"x":0.6,"y":-0.3,"v":0.067},{"x":0.65,"y":-0.3,"v":0.06},{"x":0.7,"y":-0.3,"v":0.052},{"x":0.75,"y":-0.3,"v":0.043},{"x":0.8,"y":-0.3,"v":0.034},{"x":0.85,"y":-0.3,"v":0.022},{"x":0.9,"y":-0.3,"v":0.01},{"x":0.95,"y":-0.3,"v":-0.004},{"x":1,"y":-0.3,"v":-0.018},
{"x":-1,"y":-0.35,"v":-0.03},{"x":-0.95,"y":-0.35,"v":-0.007},{"x":-0.9,"y":-0.35,"v":0.018},{"x":-0.85,"y":-0.35,"v":0.037},{"x":-0.8,"y":-0.35,"v":0.057},{"x":-0.75,"y":-0.35,"v":0.069},{"x":-0.7,"y":-0.35,"v":0.081},{"x":-0.65,"y":-0.35,"v":0.091},{"x":-0.6,"y":-0.35,"v":0.1},{"x":-0.55,"y":-0.35,"v":0.107},{"x":-0.5,"y":-0.35,"v":0.113},{"x":-0.45,"y":-0.35,"v":0.119},{"x":-0.4,"y":-0.35,"v":0.124},{"x":-0.35,"y":-0.35,"v":0.129},{"x":-0.3,"y":-0.35,"v":0.133},{"x":-0.25,"y":-0.35,"v":0.134},{"x":-0.2,"y":-0.35,"v":0.134},{"x":-0.15,"y":-0.35,"v":0.131},{"x":-0.1,"y":-0.35,"v":0.129},{"x":-0.05,"y":-0.35,"v":0.126},{"x":0,"y":-0.35,"v":0.122},{"x":0.05,"y":-0.35,"v":0.118},{"x":0.1,"y":-0.35,"v":0.114},{"x":0.15,"y":-0.35,"v":0.111},{"x":0.2,"y":-0.35,"v":0.107},{"x":0.25,"y":-0.35,"v":0.103},{"x":0.3,"y":-0.35,"v":0.099},{"x":0.35,"y":-0.35,"v":0.094},{"x":0.4,"y":-0.35,"v":0.09},{"x":0.45,"y":-0.35,"v":0.085},{"x":0.5,"y":-0.35,"v":0.08},{"x":0.55,"y":-0.35,"v":0.074},{"x":0.6,"y":-0.35,"v":0.068},{"x":0.65,"y":-0.35,"v":0.061},{"x":0.7,"y":-0.35,"v":0.053},{"x":0.75,"y":-0.35,"v":0.044},{"x":0.8,"y":-0.35,"v":0.035},{"x":0.85,"y":-0.35,"v":0.023},{"x":0.9,"y":-0.35,"v":0.011},{"x":0.95,"y":-0.35,"v":-0.004},{"x":1,"y":-0.35,"v":-0.018},
{"x":-1,"y":-0.4,"v":-0.03},{"x":-0.95,"y":-0.4,"v":-0.007},{"x":-0.9,"y":-0.4,"v":0.017},{"x":-0.85,"y":-0.4,"v":0.036},{"x":-0.8,"y":-0.4,"v":0.055},{"x":-0.75,"y":-0.4,"v":0.068},{"x":-0.7,"y":-0.4,"v":0.08},{"x":-0.65,"y":-0.4,"v":0.09},{"x":-0.6,"y":-0.4,"v":0.099},{"x":-0.55,"y":-0.4,"v":0.106},{"x":-0.5,"y":-0.4,"v":0.112},{"x":-0.45,"y":-0.4,"v":0.118},{"x":-0.4,"y":-0.4,"v":0.123},{"x":-0.35,"y":-0.4,"v":0.126},{"x":-0.3,"y":-0.4,"v":0.129},{"x":-0.25,"y":-0.4,"v":0.13},{"x":-0.2,"y":-0.4,"v":0.13},{"x":-0.15,"y":-0.4,"v":0.128},{"x":-0.1,"y":-0.4,"v":0.126},{"x":-0.05,"y":-0.4,"v":0.123},{"x":0,"y":-0.4,"v":0.119},{"x":0.05,"y":-0.4,"v":0.116},{"x":0.1,"y":-0.4,"v":0.112},{"x":0.15,"y":-0.4,"v":0.109},{"x":0.2,"y":-0.4,"v":0.105},{"x":0.25,"y":-0.4,"v":0.102},{"x":0.3,"y":-0.4,"v":0.098},{"x":0.35,"y":-0.4,"v":0.094},{"x":0.4,"y":-0.4,"v":0.09},{"x":0.45,"y":-0.4,"v":0.086},{"x":0.5,"y":-0.4,"v":0.081},{"x":0.55,"y":-0.4,"v":0.075},{"x":0.6,"y":-0.4,"v":0.069},{"x":0.65,"y":-0.4,"v":0.062},{"x":0.7,"y":-0.4,"v":0.054},{"x":0.75,"y":-0.4,"v":0.045},{"x":0.8,"y":-0.4,"v":0.035},{"x":0.85,"y":-0.4,"v":0.023},{"x":0.9,"y":-0.4,"v":0.011},{"x":0.95,"y":-0.4,"v":-0.004},{"x":1,"y":-0.4,"v":-0.018},
{"x":-1,"y":-0.45,"v":-0.03},{"x":-0.95,"y":-0.45,"v":-0.008},{"x":-0.9,"y":-0.45,"v":0.016},{"x":-0.85,"y":-0.45,"v":0.035},{"x":-0.8,"y":-0.45,"v":0.053},{"x":-0.75,"y":-0.45,"v":0.066},{"x":-0.7,"y":-0.45,"v":0.078},{"x":-0.65,"y":-0.45,"v":0.088},{"x":-0.6,"y":-0.45,"v":0.097},{"x":-0.55,"y":-0.45,"v":0.104},{"x":-0.5,"y":-0.45,"v":0.11},{"x":-0.45,"y":-0.45,"v":0.116},{"x":-0.4,"y":-0.45,"v":0.12},{"x":-0.35,"y":-0.45,"v":0.123},{"x":-0.3,"y":-0.45,"v":0.125},{"x":-0.25,"y":-0.45,"v":0.125},{"x":-0.2,"y":-0.45,"v":0.125},{"x":-0.15,"y":-0.45,"v":0.124},{"x":-0.1,"y":-0.45,"v":0.122},{"x":-0.05,"y":-0.45,"v":0.119},{"x":0,"y":-0.45,"v":0.115},{"x":0.05,"y":-0.45,"v":0.113},{"x":0.1,"y":-0.45,"v":0.109},{"x":0.15,"y":-0.45,"v":0.106},{"x":0.2,"y":-0.45,"v":0.103},{"x":0.25,"y":-0.45,"v":0.1},{"x":0.3,"y":-0.45,"v":0.096},{"x":0.35,"y":-0.45,"v":0.093},{"x":0.4,"y":-0.45,"v":0.089},{"x":0.45,"y":-0.45,"v":0.085},{"x":0.5,"y":-0.45,"v":0.081},{"x":0.55,"y":-0.45,"v":0.075},{"x":0.6,"y":-0.45,"v":0.069},{"x":0.65,"y":-0.45,"v":0.061},{"x":0.7,"y":-0.45,"v":0.053},{"x":0.75,"y":-0.45,"v":0.044},{"x":0.8,"y":-0.45,"v":0.035},{"x":0.85,"y":-0.45,"v":0.023},{"x":0.9,"y":-0.45,"v":0.011},{"x":0.95,"y":-0.45,"v":-0.004},{"x":1,"y":-0.45,"v":-0.018},
{"x":-1,"y":-0.5,"v":-0.03},{"x":-0.95,"y":-0.5,"v":-0.008},{"x":-0.9,"y":-0.5,"v":0.015},{"x":-0.85,"y":-0.5,"v":0.033},{"x":-0.8,"y":-0.5,"v":0.05},{"x":-0.75,"y":-0.5,"v":0.063},{"x":-0.7,"y":-0.5,"v":0.076},{"x":-0.65,"y":-0.5,"v":0.086},{"x":-0.6,"y":-0.5,"v":0.095},{"x":-0.55,"y":-0.5,"v":0.102},{"x":-0.5,"y":-0.5,"v":0.108},{"x":-0.45,"y":-0.5,"v":0.113},{"x":-0.4,"y":-0.5,"v":0.117},{"x":-0.35,"y":-0.5,"v":0.119},{"x":-0.3,"y":-0.5,"v":0.12},{"x":-0.25,"y":-0.5,"v":0.12},{"x":-0.2,"y":-0.5,"v":0.12},{"x":-0.15,"y":-0.5,"v":0.119},{"x":-0.1,"y":-0.5,"v":0.117},{"x":-0.05,"y":-0.5,"v":0.114},{"x":0,"y":-0.5,"v":0.111},{"x":0.05,"y":-0.5,"v":0.109},{"x":0.1,"y":-0.5,"v":0.106},{"x":0.15,"y":-0.5,"v":0.103},{"x":0.2,"y":-0.5,"v":0.1},{"x":0.25,"y":-0.5,"v":0.097},{"x":0.3,"y":-0.5,"v":0.094},{"x":0.35,"y":-0.5,"v":0.091},{"x":0.4,"y":-0.5,"v":0.088},{"x":0.45,"y":-0.5,"v":0.084},{"x":0.5,"y":-0.5,"v":0.08},{"x":0.55,"y":-0.5,"v":0.074},{"x":0.6,"y":-0.5,"v":0.068},{"x":0.65,"y":-0.5,"v":0.06},{"x":0.7,"y":-0.5,"v":0.052},{"x":0.75,"y":-0.5,"v":0.043},{"x":0.8,"y":-0.5,"v":0.034},{"x":0.85,"y":-0.5,"v":0.022},{"x":0.9,"y":-0.5,"v":0.01},{"x":0.95,"y":-0.5,"v":-0.004},{"x":1,"y":-0.5,"v":-0.018},
{"x":-1,"y":-0.55,"v":-0.03},{"x":-0.95,"y":-0.55,"v":-0.009},{"x":-0.9,"y":-0.55,"v":0.013},{"x":-0.85,"y":-0.55,"v":0.03},{"x":-0.8,"y":-0.55,"v":0.047},{"x":-0.75,"y":-0.55,"v":0.059},{"x":-0.7,"y":-0.55,"v":0.072},{"x":-0.65,"y":-0.55,"v":0.081},{"x":-0.6,"y":-0.55,"v":0.09},{"x":-0.55,"y":-0.55,"v":0.097},{"x":-0.5,"y":-0.55,"v":0.103},{"x":-0.45,"y":-0.55,"v":0.107},{"x":-0.4,"y":-0.55,"v":0.111},{"x":-0.35,"y":-0.55,"v":0.113},{"x":-0.3,"y":-0.55,"v":0.115},{"x":-0.25,"y":-0.55,"v":0.115},{"x":-0.2,"y":-0.55,"v":0.115},{"x":-0.15,"y":-0.55,"v":0.114},{"x":-0.1,"y":-0.55,"v":0.113},{"x":-0.05,"y":-0.55,"v":0.11},{"x":0,"y":-0.55,"v":0.107},{"x":0.05,"y":-0.55,"v":0.105},{"x":0.1,"y":-0.55,"v":0.102},{"x":0.15,"y":-0.55,"v":0.099},{"x":0.2,"y":-0.55,"v":0.096},{"x":0.25,"y":-0.55,"v":0.093},{"x":0.3,"y":-0.55,"v":0.09},{"x":0.35,"y":-0.55,"v":0.087},{"x":0.4,"y":-0.55,"v":0.084},{"x":0.45,"y":-0.55,"v":0.08},{"x":0.5,"y":-0.55,"v":0.076},{"x":0.55,"y":-0.55,"v":0.07},{"x":0.6,"y":-0.55,"v":0.064},{"x":0.65,"y":-0.55,"v":0.057},{"x":0.7,"y":-0.55,"v":0.049},{"x":0.75,"y":-0.55,"v":0.04},{"x":0.8,"y":-0.55,"v":0.031},{"x":0.85,"y":-0.55,"v":0.02},{"x":0.9,"y":-0.55,"v":0.008},{"x":0.95,"y":-0.55,"v":-0.005},{"x":1,"y":-0.55,"v":-0.018},
{"x":-1,"y":-0.6,"v":-0.03},{"x":-0.95,"y":-0.6,"v":-0.01},{"x":-0.9,"y":-0.6,"v":0.01},{"x":-0.85,"y":-0.6,"v":0.027},{"x":-0.8,"y":-0.6,"v":0.043},{"x":-0.75,"y":-0.6,"v":0.055},{"x":-0.7,"y":-0.6,"v":0.067},{"x":-0.65,"y":-0.6,"v":0.076},{"x":-0.6,"y":-0.6,"v":0.085},{"x":-0.55,"y":-0.6,"v":0.091},{"x":-0.5,"y":-0.6,"v":0.097},{"x":-0.45,"y":-0.6,"v":0.101},{"x":-0.4,"y":-0.6,"v":0.105},{"x":-0.35,"y":-0.6,"v":0.107},{"x":-0.3,"y":-0.6,"v":0.109},{"x":-0.25,"y":-0.6,"v":0.11},{"x":-0.2,"y":-0.6,"v":0.11},{"x":-0.15,"y":-0.6,"v":0.109},{"x":-0.1,"y":-0.6,"v":0.108},{"x":-0.05,"y":-0.6,"v":0.106},{"x":0,"y":-0.6,"v":0.103},{"x":0.05,"y":-0.6,"v":0.101},{"x":0.1,"y":-0.6,"v":0.098},{"x":0.15,"y":-0.6,"v":0.095},{"x":0.2,"y":-0.6,"v":0.092},{"x":0.25,"y":-0.6,"v":0.089},{"x":0.3,"y":-0.6,"v":0.086},{"x":0.35,"y":-0.6,"v":0.083},{"x":0.4,"y":-0.6,"v":0.079},{"x":0.45,"y":-0.6,"v":0.075},{"x":0.5,"y":-0.6,"v":0.071},{"x":0.55,"y":-0.6,"v":0.066},{"x":0.6,"y":-0.6,"v":0.06},{"x":0.65,"y":-0.6,"v":0.053},{"x":0.7,"y":-0.6,"v":0.045},{"x":0.75,"y":-0.6,"v":0.037},{"x":0.8,"y":-0.6,"v":0.028},{"x":0.85,"y":-0.6,"v":0.017},{"x":0.9,"y":-0.6,"v":0.006},{"x":0.95,"y":-0.6,"v":-0.006},{"x":1,"y":-0.6,"v":-0.018},
{"x":-1,"y":-0.65,"v":-0.03},{"x":-0.95,"y":-0.65,"v":-0.013},{"x":-0.9,"y":-0.65,"v":0.006},{"x":-0.85,"y":-0.65,"v":0.023},{"x":-0.8,"y":-0.65,"v":0.039},{"x":-0.75,"y":-0.65,"v":0.05},{"x":-0.7,"y":-0.65,"v":0.062},{"x":-0.65,"y":-0.65,"v":0.07},{"x":-0.6,"y":-0.65,"v":0.079},{"x":-0.55,"y":-0.65,"v":0.085},{"x":-0.5,"y":-0.65,"v":0.09},{"x":-0.45,"y":-0.65,"v":0.094},{"x":-0.4,"y":-0.65,"v":0.098},{"x":-0.35,"y":-0.65,"v":0.1},{"x":-0.3,"y":-0.65,"v":0.102},{"x":-0.25,"y":-0.65,"v":0.103},{"x":-0.2,"y":-0.65,"v":0.103},{"x":-0.15,"y":-0.65,"v":0.102},{"x":-0.1,"y":-0.65,"v":0.101},{"x":-0.05,"y":-0.65,"v":0.1},{"x":0,"y":-0.65,"v":0.097},{"x":0.05,"y":-0.65,"v":0.095},{"x":0.1,"y":-0.65,"v":0.093},{"x":0.15,"y":-0.65,"v":0.09},{"x":0.2,"y":-0.65,"v":0.087},{"x":0.25,"y":-0.65,"v":0.085},{"x":0.3,"y":-0.65,"v":0.082},{"x":0.35,"y":-0.65,"v":0.079},{"x":0.4,"y":-0.65,"v":0.075},{"x":0.45,"y":-0.65,"v":0.071},{"x":0.5,"y":-0.65,"v":0.067},{"x":0.55,"y":-0.65,"v":0.062},{"x":0.6,"y":-0.65,"v":0.056},{"x":0.65,"y":-0.65,"v":0.049},{"x":0.7,"y":-0.65,"v":0.041},{"x":0.75,"y":-0.65,"v":0.033},{"x":0.8,"y":-0.65,"v":0.024},{"x":0.85,"y":-0.65,"v":0.014},{"x":0.9,"y":-0.65,"v":0.004},{"x":0.95,"y":-0.65,"v":-0.008},{"x":1,"y":-0.65,"v":-0.018},
{"x":-1,"y":-0.7,"v":-0.03},{"x":-0.95,"y":-0.7,"v":-0.015},{"x":-0.9,"y":-0.7,"v":0.001},{"x":-0.85,"y":-0.7,"v":0.018},{"x":-0.8,"y":-0.7,"v":0.034},{"x":-0.75,"y":-0.7,"v":0.045},{"x":-0.7,"y":-0.7,"v":0.056},{"x":-0.65,"y":-0.7,"v":0.064},{"x":-0.6,"y":-0.7,"v":0.072},{"x":-0.55,"y":-0.7,"v":0.078},{"x":-0.5,"y":-0.7,"v":0.083},{"x":-0.45,"y":-0.7,"v":0.087},{"x":-0.4,"y":-0.7,"v":0.09},{"x":-0.35,"y":-0.7,"v":0.092},{"x":-0.3,"y":-0.7,"v":0.094},{"x":-0.25,"y":-0.7,"v":0.095},{"x":-0.2,"y":-0.7,"v":0.095},{"x":-0.15,"y":-0.7,"v":0.095},{"x":-0.1,"y":-0.7,"v":0.094},{"x":-0.05,"y":-0.7,"v":0.093},{"x":0,"y":-0.7,"v":0.091},{"x":0.05,"y":-0.7,"v":0.089},{"x":0.1,"y":-0.7,"v":0.087},{"x":0.15,"y":-0.7,"v":0.085},{"x":0.2,"y":-0.7,"v":0.082},{"x":0.25,"y":-0.7,"v":0.08},{"x":0.3,"y":-0.7,"v":0.077},{"x":0.35,"y":-0.7,"v":0.074},{"x":0.4,"y":-0.7,"v":0.07},{"x":0.45,"y":-0.7,"v":0.067},{"x":0.5,"y":-0.7,"v":0.063},{"x":0.55,"y":-0.7,"v":0.058},{"x":0.6,"y":-0.7,"v":0.052},{"x":0.65,"y":-0.7,"v":0.045},{"x":0.7,"y":-0.7,"v":0.037},{"x":0.75,"y":-0.7,"v":0.029},{"x":0.8,"y":-0.7,"v":0.02},{"x":0.85,"y":-0.7,"v":0.011},{"x":0.9,"y":-0.7,"v":0.001},{"x":0.95,"y":-0.7,"v":-0.009},{"x":1,"y":-0.7,"v":-0.018},
{"x":-1,"y":-0.75,"v":-0.031},{"x":-0.95,"y":-0.75,"v":-0.018},{"x":-0.9,"y":-0.75,"v":-0.004},{"x":-0.85,"y":-0.75,"v":0.012},{"x":-0.8,"y":-0.75,"v":0.027},{"x":-0.75,"y":-0.75,"v":0.038},{"x":-0.7,"y":-0.75,"v":0.048},{"x":-0.65,"y":-0.75,"v":0.056},{"x":-0.6,"y":-0.75,"v":0.064},{"x":-0.55,"y":-0.75,"v":0.069},{"x":-0.5,"y":-0.75,"v":0.074},{"x":-0.45,"y":-0.75,"v":0.078},{"x":-0.4,"y":-0.75,"v":0.081},{"x":-0.35,"y":-0.75,"v":0.083},{"x":-0.3,"y":-0.75,"v":0.085},{"x":-0.25,"y":-0.75,"v":0.086},{"x":-0.2,"y":-0.75,"v":0.087},{"x":-0.15,"y":-0.75,"v":0.087},{"x":-0.1,"y":-0.75,"v":0.086},{"x":-0.05,"y":-0.75,"v":0.085},{"x":0,"y":-0.75,"v":0.083},{"x":0.05,"y":-0.75,"v":0.082},{"x":0.1,"y":-0.75,"v":0.08},{"x":0.15,"y":-0.75,"v":0.078},{"x":0.2,"y":-0.75,"v":0.075},{"x":0.25,"y":-0.75,"v":0.073},{"x":0.3,"y":-0.75,"v":0.07},{"x":0.35,"y":-0.75,"v":0.067},{"x":0.4,"y":-0.75,"v":0.064},{"x":0.45,"y":-0.75,"v":0.061},{"x":0.5,"y":-0.75,"v":0.057},{"x":0.55,"y":-0.75,"v":0.052},{"x":0.6,"y":-0.75,"v":0.046},{"x":0.65,"y":-0.75,"v":0.039},{"x":0.7,"y":-0.75,"v":0.031},{"x":0.75,"y":-0.75,"v":0.023},{"x":0.8,"y":-0.75,"v":0.015},{"x":0.85,"y":-0.75,"v":0.007},{"x":0.9,"y":-0.75,"v":-0.003},{"x":0.95,"y":-0.75,"v":-0.011},{"x":1,"y":-0.75,"v":-0.019},
{"x":-1,"y":-0.8,"v":-0.031},{"x":-0.95,"y":-0.8,"v":-0.02},{"x":-0.9,"y":-0.8,"v":-0.008},{"x":-0.85,"y":-0.8,"v":0.006},{"x":-0.8,"y":-0.8,"v":0.02},{"x":-0.75,"y":-0.8,"v":0.03},{"x":-0.7,"y":-0.8,"v":0.04},{"x":-0.65,"y":-0.8,"v":0.048},{"x":-0.6,"y":-0.8,"v":0.055},{"x":-0.55,"y":-0.8,"v":0.06},{"x":-0.5,"y":-0.8,"v":0.065},{"x":-0.45,"y":-0.8,"v":0.069},{"x":-0.4,"y":-0.8,"v":0.072},{"x":-0.35,"y":-0.8,"v":0.074},{"x":-0.3,"y":-0.8,"v":0.076},{"x":-0.25,"y":-0.8,"v":0.077},{"x":-0.2,"y":-0.8,"v":0.078},{"x":-0.15,"y":-0.8,"v":0.078},{"x":-0.1,"y":-0.8,"v":0.077},{"x":-0.05,"y":-0.8,"v":0.076},{"x":0,"y":-0.8,"v":0.075},{"x":0.05,"y":-0.8,"v":0.074},{"x":0.1,"y":-0.8,"v":0.072},{"x":0.15,"y":-0.8,"v":0.07},{"x":0.2,"y":-0.8,"v":0.068},{"x":0.25,"y":-0.8,"v":0.066},{"x":0.3,"y":-0.8,"v":0.063},{"x":0.35,"y":-0.8,"v":0.06},{"x":0.4,"y":-0.8,"v":0.057},{"x":0.45,"y":-0.8,"v":0.054},{"x":0.5,"y":-0.8,"v":0.05},{"x":0.55,"y":-0.8,"v":0.045},{"x":0.6,"y":-0.8,"v":0.04},{"x":0.65,"y":-0.8,"v":0.033},{"x":0.7,"y":-0.8,"v":0.025},{"x":0.75,"y":-0.8,"v":0.017},{"x":0.8,"y":-0.8,"v":0.009},{"x":0.85,"y":-0.8,"v":0.002},{"x":0.9,"y":-0.8,"v":-0.006},{"x":0.95,"y":-0.8,"v":-0.013},{"x":1,"y":-0.8,"v":-0.019},
{"x":-1,"y":-0.85,"v":-0.033},{"x":-0.95,"y":-0.85,"v":-0.024},{"x":-0.9,"y":-0.85,"v":-0.014},{"x":-0.85,"y":-0.85,"v":-0.003},{"x":-0.8,"y":-0.85,"v":0.009},{"x":-0.75,"y":-0.85,"v":0.017},{"x":-0.7,"y":-0.85,"v":0.025},{"x":-0.65,"y":-0.85,"v":0.032},{"x":-0.6,"y":-0.85,"v":0.038},{"x":-0.55,"y":-0.85,"v":0.043},{"x":-0.5,"y":-0.85,"v":0.048},{"x":-0.45,"y":-0.85,"v":0.051},{"x":-0.4,"y":-0.85,"v":0.054},{"x":-0.35,"y":-0.85,"v":0.057},{"x":-0.3,"y":-0.85,"v":0.059},{"x":-0.25,"y":-0.85,"v":0.06},{"x":-0.2,"y":-0.85,"v":0.061},{"x":-0.15,"y":-0.85,"v":0.06},{"x":-0.1,"y":-0.85,"v":0.059},{"x":-0.05,"y":-0.85,"v":0.058},{"x":0,"y":-0.85,"v":0.056},{"x":0.05,"y":-0.85,"v":0.055},{"x":0.1,"y":-0.85,"v":0.053},{"x":0.15,"y":-0.85,"v":0.051},{"x":0.2,"y":-0.85,"v":0.049},{"x":0.25,"y":-0.85,"v":0.047},{"x":0.3,"y":-0.85,"v":0.045},{"x":0.35,"y":-0.85,"v":0.042},{"x":0.4,"y":-0.85,"v":0.039},{"x":0.45,"y":-0.85,"v":0.037},{"x":0.5,"y":-0.85,"v":0.034},{"x":0.55,"y":-0.85,"v":0.03},{"x":0.6,"y":-0.85,"v":0.026},{"x":0.65,"y":-0.85,"v":0.021},{"x":0.7,"y":-0.85,"v":0.015},{"x":0.75,"y":-0.85,"v":0.008},{"x":0.8,"y":-0.85,"v":0.002},{"x":0.85,"y":-0.85,"v":-0.005},{"x":0.9,"y":-0.85,"v":-0.011},{"x":0.95,"y":-0.85,"v":-0.016},{"x":1,"y":-0.85,"v":-0.021},
{"x":-1,"y":-0.9,"v":-0.035},{"x":-0.95,"y":-0.9,"v":-0.027},{"x":-0.9,"y":-0.9,"v":-0.019},{"x":-0.85,"y":-0.9,"v":-0.011},{"x":-0.8,"y":-0.9,"v":-0.002},{"x":-0.75,"y":-0.9,"v":0.004},{"x":-0.7,"y":-0.9,"v":0.01},{"x":-0.65,"y":-0.9,"v":0.016},{"x":-0.6,"y":-0.9,"v":0.021},{"x":-0.55,"y":-0.9,"v":0.026},{"x":-0.5,"y":-0.9,"v":0.03},{"x":-0.45,"y":-0.9,"v":0.033},{"x":-0.4,"y":-0.9,"v":0.036},{"x":-0.35,"y":-0.9,"v":0.039},{"x":-0.3,"y":-0.9,"v":0.041},{"x":-0.25,"y":-0.9,"v":0.042},{"x":-0.2,"y":-0.9,"v":0.043},{"x":-0.15,"y":-0.9,"v":0.042},{"x":-0.1,"y":-0.9,"v":0.041},{"x":-0.05,"y":-0.9,"v":0.039},{"x":0,"y":-0.9,"v":0.037},{"x":0.05,"y":-0.9,"v":0.036},{"x":0.1,"y":-0.9,"v":0.034},{"x":0.15,"y":-0.9,"v":0.032},{"x":0.2,"y":-0.9,"v":0.03},{"x":0.25,"y":-0.9,"v":0.028},{"x":0.3,"y":-0.9,"v":0.026},{"x":0.35,"y":-0.9,"v":0.024},{"x":0.4,"y":-0.9,"v":0.021},{"x":0.45,"y":-0.9,"v":0.019},{"x":0.5,"y":-0.9,"v":0.017},{"x":0.55,"y":-0.9,"v":0.014},{"x":0.6,"y":-0.9,"v":0.011},{"x":0.65,"y":-0.9,"v":0.008},{"x":0.7,"y":-0.9,"v":0.004},{"x":0.75,"y":-0.9,"v":-0.001},{"x":0.8,"y":-0.9,"v":-0.006},{"x":0.85,"y":-0.9,"v":-0.011},{"x":0.9,"y":-0.9,"v":-0.016},{"x":0.95,"y":-0.9,"v":-0.019},{"x":1,"y":-0.9,"v":-0.022},
{"x":-1,"y":-0.95,"v":-0.041},{"x":-0.95,"y":-0.95,"v":-0.034},{"x":-0.9,"y":-0.95,"v":-0.027},{"x":-0.85,"y":-0.95,"v":-0.02},{"x":-0.8,"y":-0.95,"v":-0.013},{"x":-0.75,"y":-0.95,"v":-0.008},{"x":-0.7,"y":-0.95,"v":-0.003},{"x":-0.65,"y":-0.95,"v":0.002},{"x":-0.6,"y":-0.95,"v":0.006},{"x":-0.55,"y":-0.95,"v":0.009},{"x":-0.5,"y":-0.95,"v":0.012},{"x":-0.45,"y":-0.95,"v":0.015},{"x":-0.4,"y":-0.95,"v":0.017},{"x":-0.35,"y":-0.95,"v":0.02},{"x":-0.3,"y":-0.95,"v":0.022},{"x":-0.25,"y":-0.95,"v":0.023},{"x":-0.2,"y":-0.95,"v":0.024},{"x":-0.15,"y":-0.95,"v":0.025},{"x":-0.1,"y":-0.95,"v":0.025},{"x":-0.05,"y":-0.95,"v":0.024},{"x":0,"y":-0.95,"v":0.023},{"x":0.05,"y":-0.95,"v":0.023},{"x":0.1,"y":-0.95,"v":0.021},{"x":0.15,"y":-0.95,"v":0.02},{"x":0.2,"y":-0.95,"v":0.019},{"x":0.25,"y":-0.95,"v":0.017},{"x":0.3,"y":-0.95,"v":0.016},{"x":0.35,"y":-0.95,"v":0.014},{"x":0.4,"y":-0.95,"v":0.012},{"x":0.45,"y":-0.95,"v":0.011},{"x":0.5,"y":-0.95,"v":0.009},{"x":0.55,"y":-0.95,"v":0.007},{"x":0.6,"y":-0.95,"v":0.005},{"x":0.65,"y":-0.95,"v":0.002},{"x":0.7,"y":-0.95,"v":-0.002},{"x":0.75,"y":-0.95,"v":-0.006},{"x":0.8,"y":-0.95,"v":-0.009},{"x":0.85,"y":-0.95,"v":-0.013},{"x":0.9,"y":-0.95,"v":-0.017},{"x":0.95,"y":-0.95,"v":-0.02},{"x":1,"y":-0.95,"v":-0.023},
{"x":-1,"y":-1,"v":-0.046},{"x":-0.95,"y":-1,"v":-0.04},{"x":-0.9,"y":-1,"v":-0.034},{"x":-0.85,"y":-1,"v":-0.029},{"x":-0.8,"y":-1,"v":-0.024},{"x":-0.75,"y":-1,"v":-0.02},{"x":-0.7,"y":-1,"v":-0.016},{"x":-0.65,"y":-1,"v":-0.013},{"x":-0.6,"y":-1,"v":-0.01},{"x":-0.55,"y":-1,"v":-0.008},{"x":-0.5,"y":-1,"v":-0.006},{"x":-0.45,"y":-1,"v":-0.004},{"x":-0.4,"y":-1,"v":-0.002},{"x":-0.35,"y":-1,"v":0},{"x":-0.3,"y":-1,"v":0.002},{"x":-0.25,"y":-1,"v":0.004},{"x":-0.2,"y":-1,"v":0.005},{"x":-0.15,"y":-1,"v":0.007},{"x":-0.1,"y":-1,"v":0.008},{"x":-0.05,"y":-1,"v":0.009},{"x":0,"y":-1,"v":0.009},{"x":0.05,"y":-1,"v":0.009},{"x":0.1,"y":-1,"v":0.008},{"x":0.15,"y":-1,"v":0.008},{"x":0.2,"y":-1,"v":0.007},{"x":0.25,"y":-1,"v":0.006},{"x":0.3,"y":-1,"v":0.005},{"x":0.35,"y":-1,"v":0.004},{"x":0.4,"y":-1,"v":0.003},{"x":0.45,"y":-1,"v":0.002},{"x":0.5,"y":-1,"v":0.001},{"x":0.55,"y":-1,"v":-0.001},{"x":0.6,"y":-1,"v":-0.002},{"x":0.65,"y":-1,"v":-0.005},{"x":0.7,"y":-1,"v":-0.007},{"x":0.75,"y":-1,"v":-0.01},{"x":0.8,"y":-1,"v":-0.012},{"x":0.85,"y":-1,"v":-0.015},{"x":0.9,"y":-1,"v":-0.018},{"x":0.95,"y":-1,"v":-0.021},{"x":1,"y":-1,"v":-0.024}
]
},
"encoding": {
  "x": {"field": "x", "type": "quantitative", "scale": {"domain": [-1, 1], "nice": false, "zero": false},
        "axis": {"tickCount": 2, "format": "d", "labelExpr": "replace(datum.label, '\u2212', '-')", "title": "x"}},
  "y": {"field": "y", "type": "quantitative", "scale": {"domain": [-1, 1], "nice": false, "zero": false},
        "axis": {"tickCount": 2, "format": "d", "labelExpr": "replace(datum.label, '\u2212', '-')", "title": "y"}},
  "color": {"field": "v", "type": "quantitative",
            "scale": {"type": "linear", "scheme": "cividis", "domain": [-0.0482, 0.1374]},
            "legend": {"title": null, "values": [0, 0.05, 0.1], "format": ".2f", "direction": "vertical", "labelOffset": 16, "gradientLength": 565, "gradientThickness": 28}}
},
"layer": [
  {"data": {"name": "heat"}, "mark": {"type": "rect", "width": 14.7, "height": 14.7, "clip": true}},
  {"data": {"name": "mask"}, "mark": {"type": "rect"},
   "encoding": {"x2": {"field": "x2"}, "y2": {"field": "y2"}}}
],
"config": {
  "view": {"stroke": "black", "strokeWidth": 2},
  "axis": {"grid": false, "domain": false, "ticks": true, "tickColor": "black", "tickWidth": 1.3, "tickSize": 9,
           "labelFont": "Liberation Serif", "labelFontSize": 38, "labelColor": "black",
           "titleFont": "Liberation Serif", "titleFontSize": 38, "titleFontWeight": "normal", "titleColor": "black",
           "labelFlush": false, "labelOverlap": false, "labelBound": false},
  "axisX": {"labelPadding": 3, "titlePadding": 10},
  "axisY": {"labelPadding": 6, "titlePadding": 12},
  "legend": {"offset": 36, "labelFont": "Liberation Serif", "labelFontSize": 38, "labelColor": "black",
             "gradientStrokeColor": "black", "gradientStrokeWidth": 1.5, "padding": 0}
}
}
